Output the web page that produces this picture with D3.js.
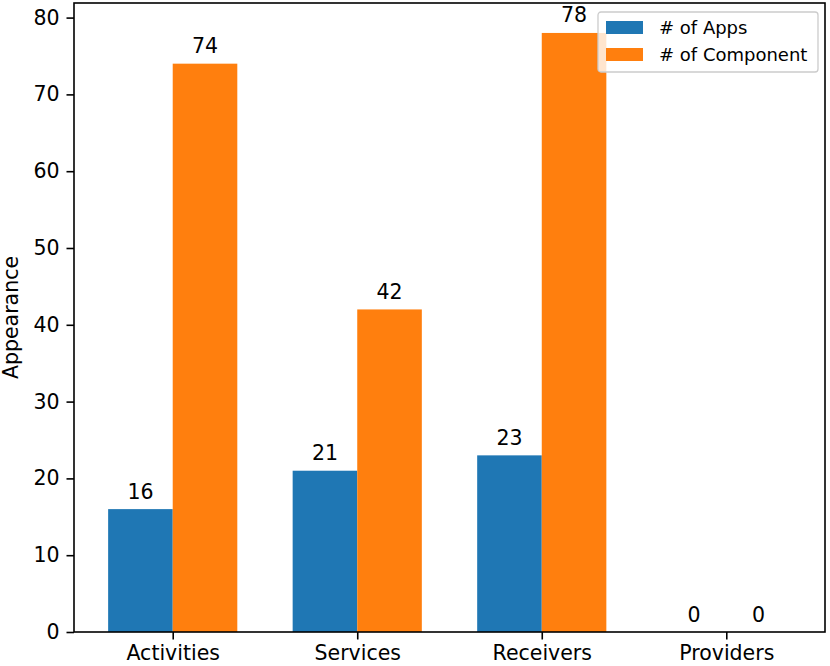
<!DOCTYPE html>
<html>
<head>
<meta charset="utf-8">
<script src="https://cdn.jsdelivr.net/npm/d3@7"></script>
<style>
    body { margin: 0; background: #fff; }
    text { font-family: "DejaVu Sans", sans-serif; fill: #000; }
</style>
</head>
<body>
<svg id="drawing_region"></svg>
<script>
const categories = ["Activities", "Services", "Receivers", "Providers"];
const series_names = ["# of Apps", "# of Component"];
const apps = [16, 21, 23, 0];
const components = [74, 42, 78, 0];
const y_ticks = [0, 10, 20, 30, 40, 50, 60, 70, 80];
const colors = ["#1f77b4", "#ff7f0e"];

const config = {
    width: 830,
    height: 666,
    margin: {top: 3, right: 5, bottom: 34, left: 74}
};

const svg = d3.select('#drawing_region')
    .attr('width', config.width)
    .attr('height', config.height);

const inner_width = config.width - config.margin.left - config.margin.right;
const inner_height = config.height - config.margin.top - config.margin.bottom;

const chart = svg.append('g')
    .attr('transform', `translate(${config.margin.left}, ${config.margin.top})`);

const bar_w = 0.35;
const xscale = d3.scaleLinear()
    .domain([-0.535, categories.length - 1 + 0.535])
    .range([0, inner_width]);

const ymax = d3.max(components.concat(apps)) * 1.05;
const yscale = d3.scaleLinear()
    .domain([0, ymax])
    .range([inner_height, 0]);

const series = [apps, components];

// bars
series.forEach((values, s) => {
    const offset = s === 0 ? -bar_w : 0;
    chart.append('g').selectAll('rect')
        .data(values)
        .enter()
        .append('rect')
        .attr('x', (d, i) => xscale(i + offset))
        .attr('y', d => yscale(d))
        .attr('width', xscale(bar_w) - xscale(0))
        .attr('height', d => inner_height - yscale(d))
        .attr('fill', colors[s]);

    // value labels
    chart.append('g').selectAll('text')
        .data(values)
        .enter()
        .append('text')
        .attr('x', (d, i) => xscale(i + offset + bar_w / 2))
        .attr('y', d => yscale(d) - 10.5)
        .attr('text-anchor', 'middle')
        .style('font-size', '20.5px')
        .text(d => d);
});

// axes
const xaxis = d3.axisBottom(xscale)
    .tickValues(d3.range(categories.length))
    .tickFormat(i => categories[i])
    .tickSize(7.5)
    .tickPadding(6);

const yaxis = d3.axisLeft(yscale)
    .tickValues(y_ticks)
    .tickSize(7.5)
    .tickPadding(7);

const xaxis_group = chart.append('g')
    .attr('transform', `translate(0, ${inner_height})`)
    .call(xaxis);
const yaxis_group = chart.append('g')
    .call(yaxis);

[xaxis_group, yaxis_group].forEach(g => {
    g.select('.domain').remove();
    g.selectAll('.tick line').attr('stroke', '#000').attr('stroke-width', 1.6);
    g.selectAll('.tick text')
        .style('font-family', '"DejaVu Sans", sans-serif')
        .style('font-size', '20.5px')
        .attr('fill', '#000');
});

// frame
chart.append('rect')
    .attr('x', 0)
    .attr('y', 0)
    .attr('width', inner_width)
    .attr('height', inner_height)
    .attr('fill', 'none')
    .attr('stroke', '#000')
    .attr('stroke-width', 1.6);

// Ylabel
svg.append('text')
    .attr('transform', `translate(18, ${config.margin.top + inner_height / 2}) rotate(-90)`)
    .attr('text-anchor', 'middle')
    .style('font-size', '20.5px')
    .text('Appearance');

// legend
const legend = svg.append('g')
    .attr('transform', 'translate(598, 12)');

legend.append('rect')
    .attr('width', 220)
    .attr('height', 60)
    .attr('rx', 3)
    .attr('fill', 'rgba(255,255,255,0.8)')
    .attr('stroke', '#cccccc')
    .attr('stroke-width', 1.3);

series_names.forEach((name, s) => {
    legend.append('rect')
        .attr('x', 8)
        .attr('y', 9 + s * 27)
        .attr('width', 37)
        .attr('height', 13)
        .attr('fill', colors[s]);
    legend.append('text')
        .attr('x', 61)
        .attr('y', 22 + s * 27)
        .style('font-size', '18px')
        .text(name);
});
</script>
</body>
</html>
